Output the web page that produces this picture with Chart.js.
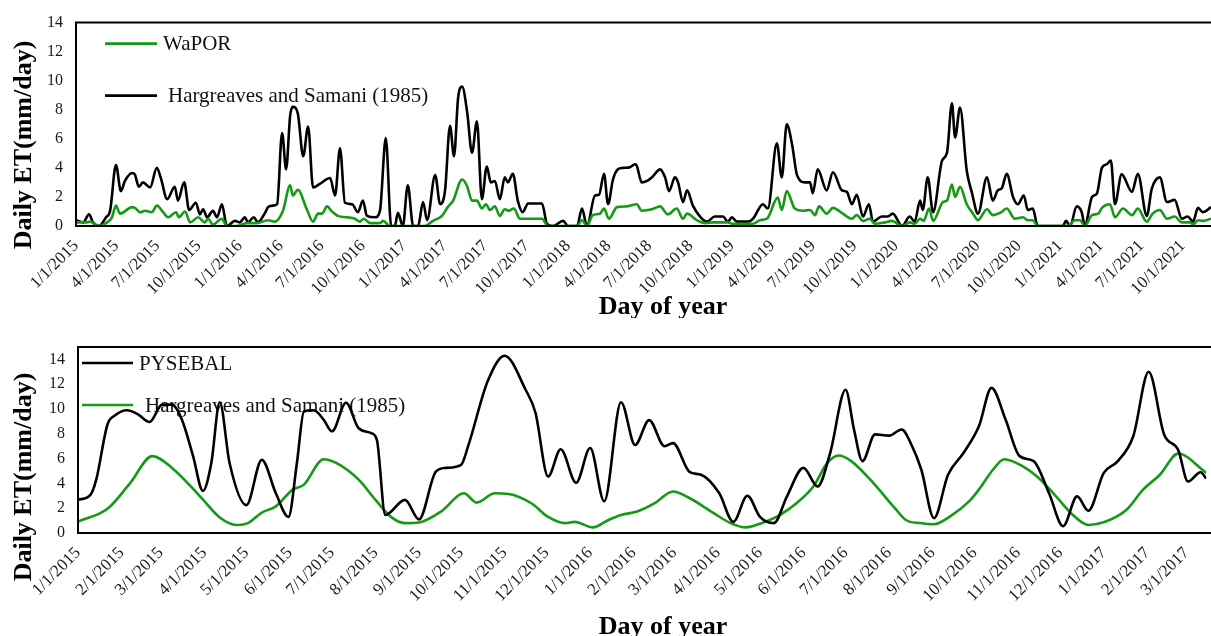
<!DOCTYPE html>
<html>
<head>
<meta charset="utf-8">
<script src="https://cdn.jsdelivr.net/npm/chart.js@4.4.1/dist/chart.umd.min.js"></script>
<style>
  html, body { margin: 0; padding: 0; background: #ffffff; }
  #wrap { position: relative; width: 1211px; height: 636px; overflow: hidden; }
  canvas { position: absolute; left: 0; }
  #etTop { top: 0; }
  #etBottom { top: 318px; }
</style>
</head>
<body>
<div id="wrap">
  <canvas id="etTop" width="1211" height="318"></canvas>
  <canvas id="etBottom" width="1211" height="318"></canvas>
</div>
<script>
// ---- Panel 1: WaPOR vs Hargreaves-Samani, 2015-2021 (days counted from 1/1/2015) ----
const topTickLabels = [
  '1/1/2015','4/1/2015','7/1/2015','10/1/2015','1/1/2016','4/1/2016','7/1/2016','10/1/2016',
  '1/1/2017','4/1/2017','7/1/2017','10/1/2017','1/1/2018','4/1/2018','7/1/2018','10/1/2018',
  '1/1/2019','4/1/2019','7/1/2019','10/1/2019','1/1/2020','4/1/2020','7/1/2020','10/1/2020',
  '1/1/2021','4/1/2021','7/1/2021','10/1/2021'
];
const topLastDay = 2528;

const hsTopDays = [0,16,29,38,51,67,76,89,100,109,125,131,140,149,165,180,189,203,220,227,241,252,267,276,283,292,305,314,325,336,354,365,376,383,396,405,421,428,439,448,459,468,477,483,494,506,517,528,543,566,577,588,599,615,628,639,648,666,677,690,702,710,717,728,739,751,762,773,782,800,811,822,833,842,851,860,871,882,893,904,915,924,933,944,955,962,973,984,995,1007,1038,1049,1062,1085,1096,1116,1127,1138,1156,1165,1176,1185,1196,1207,1218,1234,1245,1249,1260,1272,1283,1301,1312,1321,1334,1341,1352,1361,1374,1390,1405,1423,1441,1452,1461,1472,1497,1508,1530,1541,1561,1572,1583,1595,1606,1624,1635,1641,1652,1672,1686,1706,1717,1728,1739,1753,1766,1775,1795,1808,1819,1840,1857,1868,1880,1886,1897,1909,1929,1940,1951,1958,1969,1984,1995,2009,2029,2042,2053,2062,2073,2087,2098,2111,2120,2131,2142,2198,2205,2214,2229,2240,2247,2263,2274,2285,2296,2305,2314,2329,2352,2365,2385,2396,2414,2430,2447,2463,2476,2488,2499,2510,2528];
const hsTopValues = [0.4,0.25,0.8,0.25,0,0.6,1.05,4.2,2.4,3.1,3.65,3.55,2.7,3.0,2.65,4.0,3.3,1.85,2.7,1.75,3.0,1.1,1.6,0.8,1.15,0.6,1.05,0.6,1.5,0,0.35,0.25,0.6,0.25,0.6,0.25,0.9,1.3,1.4,1.5,6.4,3.9,7.6,8.2,7.75,4.8,6.85,2.65,2.9,3.3,2.1,5.35,1.6,1.5,0.95,1.75,0.7,0.6,1.05,6.05,0,0,0.9,0,2.8,0,0,1.65,0.4,3.5,1.5,2.45,6.9,4.8,8.8,9.6,7.9,5.05,7.2,1.85,4.1,3.0,3.1,1.85,3.35,3.0,3.6,1.75,0.95,1.55,1.55,0.15,0,0.35,0,0,1.2,0,2.1,2.15,3.6,1.5,3.2,3.9,4.0,4.05,4.25,4.15,3.0,3.1,3.35,3.9,3.35,2.4,3.35,3.0,1.65,2.45,1.4,0.65,0.3,0.65,0.65,0.3,0.6,0.3,0.3,0.5,1.5,1.2,5.7,3.35,7.0,5.6,3.5,3.0,3.0,2.25,3.9,2.45,3.7,2.45,2.35,1.5,2.15,0.65,1.5,0.3,0.65,0.65,0.85,0,0.65,0.3,1.75,1.1,3.35,0.95,4.5,5.05,8.45,6.1,8.15,3.8,2.35,0.85,3.35,1.75,2.45,2.6,3.6,2.0,1.5,2.1,1.1,1.2,0,0,0.35,0,1.35,0.95,0,2.0,2.25,4.0,4.25,4.5,1.5,3.55,2.35,3.6,0.7,2.55,3.35,1.65,1.8,0.5,0.65,0.3,1.25,0.95,1.3];

const waporDays = [0,24,31,51,69,80,89,98,125,131,143,154,169,180,194,205,223,229,243,254,272,287,294,305,325,336,359,381,403,428,443,461,477,483,494,514,528,539,548,559,570,583,604,621,632,641,655,677,684,699,777,795,815,828,840,860,871,882,893,904,913,922,933,944,955,964,975,989,1007,1038,1051,1116,1127,1138,1151,1167,1176,1187,1205,1227,1249,1260,1283,1301,1318,1338,1352,1361,1383,1401,1419,1452,1463,1508,1523,1539,1563,1572,1583,1601,1619,1635,1646,1655,1672,1686,1708,1728,1739,1753,1768,1779,1802,1817,1840,1857,1868,1880,1888,1900,1909,1931,1940,1951,1958,1969,1984,1998,2009,2029,2042,2058,2073,2091,2109,2120,2131,2142,2209,2225,2236,2247,2263,2277,2285,2303,2314,2332,2352,2365,2385,2398,2414,2430,2447,2463,2481,2488,2499,2510,2528];
const waporValues = [0.25,0.25,0.3,0,0.25,0.6,1.4,0.85,1.3,1.25,0.95,1.05,0.95,1.4,0.95,0.6,0.95,0.6,1.0,0.25,0.6,0.25,0.5,0.1,0.5,0,0,0.2,0.2,0.4,0.3,1.05,2.8,2.1,2.5,1.15,0.3,0.85,0.85,1.35,1.0,0.7,0.6,0.5,0.3,0.5,0.2,0.2,0.35,0,0,0.35,0.7,1.3,1.75,3.2,2.75,1.75,1.75,1.2,1.5,1.1,1.35,0.7,1.15,1.05,1.2,0.5,0.5,0.5,0,0,0.4,0,0.75,0.85,1.2,0.5,1.3,1.35,1.5,1.05,1.15,1.35,0.8,1.2,0.5,0.85,0.4,0.2,0.25,0.25,0.15,0.15,0.4,0.5,1.95,1.1,2.4,1.2,1.05,1.1,0.75,1.35,0.85,1.25,0.85,0.5,0.75,0.35,0.5,0.15,0.25,0.35,0,0.25,0.15,0.5,0.35,1.2,0.35,1.65,1.75,2.85,2.0,2.7,1.5,0.85,0.4,1.15,0.75,0.9,1.2,0.5,0.6,0.4,0.4,0,0,0.4,0.4,0,0.75,0.85,1.25,1.5,0.6,1.2,0.75,1.2,0.3,0.85,1.1,0.5,0.65,0.25,0.25,0.1,0.4,0.35,0.5];

// ---- Panel 2: PYSEBAL vs Hargreaves-Samani, 2015-2017 (days counted from 1/1/2015) ----
const bottomTickLabels = [
  '1/1/2015','2/1/2015','3/1/2015','4/1/2015','5/1/2015','6/1/2015','7/1/2015','8/1/2015','9/1/2015',
  '10/1/2015','11/1/2015','12/1/2015','1/1/2016','2/1/2016','3/1/2016','4/1/2016','5/1/2016','6/1/2016',
  '7/1/2016','8/1/2016','9/1/2016','10/1/2016','11/1/2016','12/1/2016','1/1/2017','2/1/2017','3/1/2017'
];
const bottomLastDay = 804;

const pysebalDays = [0,9,13,21,26,35,43,51,60,67,74,82,89,95,101,108,120,131,141,150,156,161,168,175,181,191,200,209,213,219,233,243,255,262,273,278,292,304,319,326,335,344,355,365,375,387,397,407,418,424,436,444,457,467,477,486,496,505,517,527,536,547,553,559,568,578,587,594,601,610,620,631,642,651,661,671,681,692,702,712,720,731,741,752,763,774,784,791,800,804];
const pysebalValues = [2.67,3.1,4.3,8.75,9.45,9.9,9.55,8.95,10.35,10.35,9.15,6.2,3.4,5.65,10.55,5.65,2.25,5.9,3.2,1.3,5.65,9.8,9.9,9.15,8.2,10.5,8.45,8.05,7.5,1.45,2.67,1.1,4.95,5.25,5.5,7.0,12.25,14.3,11.55,9.7,4.55,6.75,4.05,6.85,2.55,10.55,7.1,9.1,7.0,7.25,4.9,4.7,3.2,0.9,3.0,1.3,0.8,2.9,5.25,3.75,6.45,11.55,8.35,5.8,7.95,7.85,8.35,7.1,5.1,1.2,4.7,6.45,8.6,11.7,9.15,6.2,5.8,3.2,0.55,2.95,1.8,4.85,5.8,7.8,13.0,7.95,6.7,4.15,4.9,4.4];

const hsBottomDays = [0,21,37,53,67,87,101,113,121,131,141,153,161,175,184,200,212,223,233,243,259,275,284,297,307,323,335,347,354,367,378,387,399,411,424,436,453,465,476,486,500,512,524,534,542,551,567,581,590,600,610,621,635,642,652,660,673,685,697,709,720,732,747,759,771,784,804];
const hsBottomValues = [0.92,1.95,4.0,6.2,5.25,2.95,1.25,0.65,0.8,1.65,2.15,3.5,3.9,5.95,5.65,4.3,2.67,1.3,0.8,0.85,1.75,3.2,2.45,3.2,3.15,2.4,1.3,0.8,0.9,0.45,1.05,1.45,1.75,2.4,3.35,2.8,1.6,0.8,0.45,0.75,1.45,2.4,3.75,5.65,6.25,5.8,4.0,2.15,1.05,0.8,0.7,1.3,2.55,3.5,5.1,5.95,5.4,4.4,2.95,1.45,0.65,0.9,1.85,3.5,4.7,6.4,4.85];

const yTickValues = [0, 2, 4, 6, 8, 10, 12, 14];

const BLACK = '#000000';
const GREEN = '#159a15';
const SERIF = '"Liberation Serif", "Times New Roman", serif';

// days elapsed since 1/1/2015 for an m/d/yyyy label
function dayOf(label) {
  const [m, d, y] = label.split('/').map(Number);
  return Math.round((Date.UTC(y, m - 1, d) - Date.UTC(2015, 0, 1)) / 86400000);
}
function points(days, values) {
  return days.map((d, i) => ({ x: d, y: values[i] }));
}

// frame, in-plot legend and axis titles
const panelDecor = {
  id: 'panelDecor',
  beforeDatasetsDraw(chart, args, opts) {
    const { ctx, chartArea: a } = chart;
    ctx.save();
    chart.data.datasets.forEach((ds, i) => {
      const e = opts.entries[i];
      const y = a.top + e.dy;
      ctx.strokeStyle = ds.borderColor;
      ctx.lineWidth = ds.borderWidth;
      ctx.beginPath();
      ctx.moveTo(a.left + e.x0, y);
      ctx.lineTo(a.left + e.x1, y);
      ctx.stroke();
      ctx.fillStyle = '#111111';
      ctx.font = '21px ' + SERIF;
      ctx.textAlign = 'left';
      ctx.textBaseline = 'middle';
      ctx.fillText(ds.label, a.left + e.tx, y + 1);
    });
    ctx.restore();
  },
  afterDatasetsDraw(chart) {
    const { ctx, chartArea: a } = chart;
    ctx.save();
    ctx.strokeStyle = '#000000';
    ctx.lineWidth = 2;
    ctx.beginPath();
    ctx.moveTo(chart.width + 2, a.top);
    ctx.lineTo(a.left, a.top);
    ctx.lineTo(a.left, a.bottom);
    ctx.lineTo(chart.width + 2, a.bottom);
    ctx.stroke();
    ctx.restore();
  },
  afterDraw(chart, args, opts) {
    const { ctx } = chart;
    ctx.save();
    ctx.fillStyle = '#000000';
    ctx.font = 'bold 26px ' + SERIF;
    ctx.textAlign = 'center';
    ctx.textBaseline = 'middle';
    ctx.fillText('Day of year', opts.xTitle.x, opts.xTitle.y);
    ctx.translate(opts.yTitle.x, opts.yTitle.y);
    ctx.rotate(-Math.PI / 2);
    ctx.fillText('Daily ET(mm/day)', 0, 0);
    ctx.restore();
  }
};

function makePanel(canvasId, cfg) {
  const tickDays = cfg.tickLabels.map(dayOf);
  return new Chart(document.getElementById(canvasId), {
    type: 'line',
    data: {
      datasets: cfg.series.map(s => ({
        label: s.label,
        data: points(s.days, s.values),
        borderColor: s.color,
        borderWidth: 2.6,
        pointRadius: 0,
        fill: false,
        cubicInterpolationMode: 'monotone'
      }))
    },
    options: {
      responsive: false,
      animation: false,
      devicePixelRatio: 1,
      layout: { autoPadding: false, padding: { top: cfg.top, left: 0, right: 0, bottom: 0 } },
      plugins: {
        legend: { display: false },
        tooltip: { enabled: false },
        panelDecor: cfg.decor
      },
      scales: {
        x: {
          type: 'linear',
          min: 0,
          max: cfg.lastDay,
          grid: { display: false, drawTicks: false },
          border: { display: false },
          afterBuildTicks: s => { s.ticks = tickDays.map(v => ({ value: v })); },
          afterFit: s => { s.height = cfg.xAxisHeight; },
          ticks: {
            autoSkip: false,
            minRotation: 45,
            maxRotation: 45,
            padding: cfg.xTickPad,
            color: '#1a1a1a',
            font: { family: SERIF, size: 17 },
            callback: (v, i) => cfg.tickLabels[i]
          }
        },
        y: {
          min: 0,
          max: cfg.yMax,
          grid: { display: false, drawTicks: false },
          border: { display: false },
          afterBuildTicks: s => { s.ticks = yTickValues.map(v => ({ value: v })); },
          afterFit: s => { s.width = cfg.yAxisWidth; },
          ticks: {
            padding: 13,
            color: '#1a1a1a',
            font: { family: SERIF, size: 16 },
            callback: v => String(v)
          }
        }
      }
    },
    plugins: [panelDecor]
  });
}

makePanel('etTop', {
  top: 20,
  yMax: 14,
  yAxisWidth: 76,
  xAxisHeight: 92,
  xTickPad: 10,
  lastDay: topLastDay,
  tickLabels: topTickLabels,
  series: [
    { label: 'WaPOR', days: waporDays, values: waporValues, color: GREEN },
    { label: 'Hargreaves and Samani (1985)', days: hsTopDays, values: hsTopValues, color: BLACK }
  ],
  decor: {
    entries: [
      { x0: 29, x1: 81, tx: 87, dy: 21 },
      { x0: 29, x1: 81, tx: 92, dy: 73 }
    ],
    xTitle: { x: 663, y: 307 },
    yTitle: { x: 24, y: 145 }
  }
});

makePanel('etBottom', {
  top: 29,
  yMax: 15,
  yAxisWidth: 78,
  xAxisHeight: 103,
  xTickPad: 10,
  lastDay: bottomLastDay,
  tickLabels: bottomTickLabels,
  series: [
    { label: 'PYSEBAL', days: pysebalDays, values: pysebalValues, color: BLACK },
    { label: 'Hargreaves and Samani (1985)', days: hsBottomDays, values: hsBottomValues, color: GREEN }
  ],
  decor: {
    entries: [
      { x0: 4, x1: 55, tx: 61, dy: 16 },
      { x0: 4, x1: 55, tx: 67, dy: 58 }
    ],
    xTitle: { x: 663, y: 309 },
    yTitle: { x: 24, y: 159 }
  }
});
</script>
</body>
</html>
